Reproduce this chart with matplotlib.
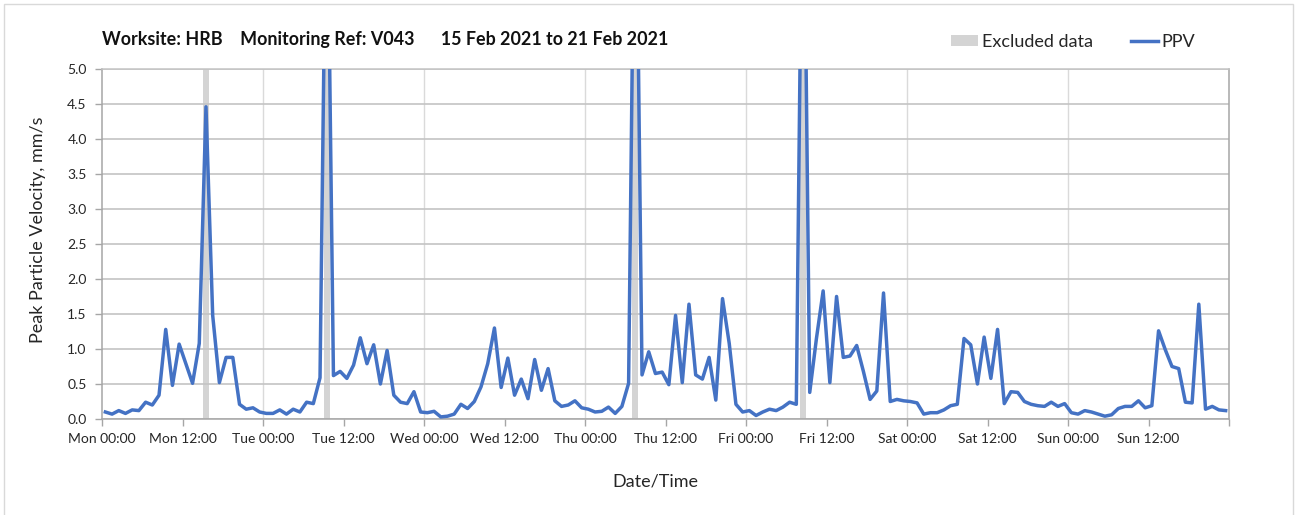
import numpy as np
import matplotlib
matplotlib.use("Agg")
import matplotlib.pyplot as plt
from matplotlib.patches import Patch, Rectangle
from matplotlib.lines import Line2D

# ---------- data ----------
# hourly PPV values (mm/s), Mon 00:00 .. Sun 23:00 (hour-centred)
ppv = [
    0.10, 0.07, 0.12, 0.08, 0.13, 0.12, 0.24, 0.20, 0.34, 1.28, 0.48, 1.07,
    0.79, 0.51, 1.08, 4.46, 1.48, 0.52, 0.88, 0.88, 0.21, 0.14, 0.16, 0.10,
    0.08, 0.08, 0.13, 0.07, 0.14, 0.10, 0.24, 0.22, 0.59, 8.50, 0.62, 0.68,
    0.58, 0.77, 1.16, 0.79, 1.06, 0.50, 0.98, 0.34, 0.24, 0.22, 0.39, 0.10,
    0.09, 0.11, 0.03, 0.04, 0.07, 0.21, 0.15, 0.25, 0.46, 0.79, 1.30, 0.45,
    0.87, 0.34, 0.57, 0.29, 0.85, 0.41, 0.72, 0.26, 0.18, 0.20, 0.26, 0.16,
    0.14, 0.10, 0.11, 0.17, 0.08, 0.18, 0.51, 9.00, 0.63, 0.96, 0.65, 0.67,
    0.49, 1.48, 0.52, 1.64, 0.63, 0.57, 0.88, 0.27, 1.72, 1.08, 0.21, 0.10,
    0.12, 0.05, 0.10, 0.14, 0.12, 0.17, 0.24, 0.21, 9.00, 0.38, 1.15, 1.83,
    0.52, 1.75, 0.88, 0.90, 1.05, 0.68, 0.28, 0.40, 1.80, 0.25, 0.28, 0.26,
    0.25, 0.23, 0.07, 0.09, 0.09, 0.13, 0.19, 0.21, 1.15, 1.06, 0.50, 1.17,
    0.58, 1.28, 0.22, 0.39, 0.38, 0.25, 0.21, 0.19, 0.18, 0.24, 0.18, 0.22,
    0.09, 0.07, 0.12, 0.10, 0.07, 0.04, 0.06, 0.15, 0.18, 0.18, 0.26, 0.16,
    0.19, 1.26, 0.99, 0.75, 0.72, 0.24, 0.23, 1.64, 0.14, 0.18, 0.13, 0.12,
]
excluded_idx = [15, 33, 79, 104]
tick_labels = ["Mon 00:00", "Mon 12:00", "Tue 00:00", "Tue 12:00",
               "Wed 00:00", "Wed 12:00", "Thu 00:00", "Thu 12:00",
               "Fri 00:00", "Fri 12:00", "Sat 00:00", "Sat 12:00",
               "Sun 00:00", "Sun 12:00"]
title = "Worksite: HRB    Monitoring Ref: V043      15 Feb 2021 to 21 Feb 2021"

# ---------- style ----------
plt.rcParams["font.family"] = ["Lato", "DejaVu Sans"]
col_line = "#4472C4"
col_excl = "#D4D4D4"
col_grid = "#C4C4C4"
col_vgrid = "#DADADA"
col_text = "#262626"

W, H = 1299, 515
fig = plt.figure(figsize=(W / 100, H / 100), dpi=100)
ax = fig.add_axes([102 / W, 1 - 419 / H, (1229 - 102) / W, (419 - 69) / H])

# frame around the figure (bottom edge runs off the image)
fig.patches.append(Rectangle((4 / W, -0.05), (1293 - 4) / W, 1.05 - 4 / H,
                             transform=fig.transFigure, fill=False,
                             edgecolor="#D9D9D9", linewidth=1.0))

hours = np.arange(len(ppv)) + 0.5

for i in excluded_idx:
    ax.axvspan(hours[i] - 0.42, hours[i] + 0.42, color=col_excl, lw=0, zorder=1)

ax.plot(hours, ppv, color=col_line, lw=2.5, zorder=3, solid_joinstyle="round")

ax.set_xlim(0, 168)
ax.set_ylim(0, 5.0)

ax.set_yticks(np.arange(0, 5.01, 0.5))
ax.set_yticklabels([f"{v:.1f}" for v in np.arange(0, 5.01, 0.5)])
ax.set_xticks(np.arange(0, 169, 12))
ax.set_xticklabels(tick_labels + [""])

ax.grid(True, axis="y", color=col_grid, lw=1.2, zorder=0)
for d in range(24, 168, 24):
    ax.axvline(d, color=col_vgrid, lw=1.0, zorder=0)

for s in ax.spines.values():
    s.set_color("#A6A6A6")
    s.set_linewidth(1.1)
ax.spines["top"].set_color(col_grid)

ax.tick_params(axis="both", direction="out", length=5, width=1,
               color="#A6A6A6", labelsize=10, labelcolor=col_text)
ax.tick_params(axis="x", pad=5)
ax.tick_params(axis="y", pad=6)

ax.set_xlabel("Date/Time", fontsize=13, color=col_text)
ax.xaxis.set_label_coords((655 - 102) / (1229 - 102), -0.157)
ax.set_ylabel("Peak Particle Velocity, mm/s", fontsize=13, color=col_text)
ax.yaxis.set_label_coords(-0.0497, 0.54)

fig.text(102 / W, 1 - 45 / H, title, fontsize=12.9, fontweight="bold",
         color="#111111", va="baseline", ha="left")

handles = [Patch(facecolor=col_excl, edgecolor="none"),
           Line2D([0], [0], color=col_line, lw=2.5)]
fig.legend(handles, ["Excluded data", "PPV"], loc="center left",
           bbox_to_anchor=(935 / W, 1 - 42 / H), ncol=2, frameon=False,
           fontsize=13, handlelength=1.5, handleheight=0.55, handletextpad=0.2,
           columnspacing=2.1, labelcolor=col_text)

fig.savefig("out.png", dpi=100)
